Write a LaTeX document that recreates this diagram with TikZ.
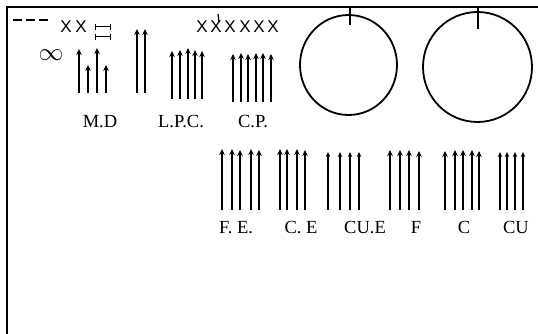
\documentclass[tikz,border=0pt]{standalone}
\usepackage{fontspec}
\setmainfont{Liberation Serif}
\newfontfamily\xfont{Liberation Sans}
\usetikzlibrary{arrows.meta}
\tikzset{
  arr/.style={line width=1.8pt,-{Stealth[length=6pt,width=5.5pt]}},
  thinarr/.style={line width=1.4pt,-{Stealth[length=5pt,width=4.5pt]}},
  frame/.style={line width=2pt},
  lab/.style={font=\fontsize{18.5}{18.5}\selectfont,anchor=base,inner sep=0pt},
  xmark/.style={font=\xfont\fontsize{17}{17}\selectfont,inner sep=0pt},
  ring/.style={line width=1.8pt}
}
\begin{document}
\begin{tikzpicture}[x=1pt,y=-1pt]
\useasboundingbox (0,0) rectangle (538,334);
% frame
\draw[frame] (7,334) -- (7,7) -- (538,7);
% dashes
\draw[line width=2pt] (13,20.5) -- (22,20.5) (26,20.5) -- (35,20.5) (39,20.5) -- (48,20.5);
% X marks
\foreach \x/\n in {66/xa,81/xb} \node[xmark] (\n) at (\x,27) {X};
\foreach \x/\n in {202/xc,216/xd,230/xe,245/xf,259/xg,273/xh} \node[xmark] (\n) at (\x,27) {X};
\draw[line width=1.2pt] (218,14) -- (219,22);
% rotated II
\foreach \yy in {27,37}{
  \draw[line width=1pt] (95,\yy) -- (110,\yy);
  \draw[line width=1pt] (95,\yy-3) -- (95,\yy+3) (110,\yy-3) -- (110,\yy+3);
}
% infinity
\node[inner sep=0pt] (inf) at (51,55) {\fontsize{27}{27}\selectfont$\infty$};
% M.D arrows
\foreach \x/\t in {79/49,88/65,97/48,106/65} \draw[arr] (\x,93) -- (\x,\t);
% tall pair
\foreach \x in {137,145} \draw[arr] (\x,93) -- (\x,29);
% L.P.C arrows
\foreach \x/\t in {172/51,180/50,188/48,195/50,202/51} \draw[arr] (\x,99) -- (\x,\t);
% C.P. arrows
\foreach \x/\t in {233/54,241/53,248/54,256/53,263/53,271/54} \draw[arr] (\x,102) -- (\x,\t);
% circles
\draw[ring] (348.5,65) ellipse (48.5 and 50);
\draw[ring] (477.5,67) ellipse (54.5 and 55);
\draw[line width=1.6pt] (350,7) -- (350,25);
\draw[line width=1.6pt] (478,7) -- (478,29);
% lower arrows
\foreach \x/\t in {222/149,232/149,240/150,251/149,259/150} \draw[arr] (\x,210) -- (\x,\t);
\foreach \x/\t in {280/149,287/149,297/149,305/150} \draw[arr] (\x,210) -- (\x,\t);
\foreach \x/\t in {328/152,340/152,350/152,359/152} \draw[thinarr] (\x,210) -- (\x,\t);
\foreach \x/\t in {390/150,400/150,409/150,419/151} \draw[arr] (\x,210) -- (\x,\t);
\foreach \x/\t in {445/151,455/150,463/150,472/150,479/151} \draw[arr] (\x,210) -- (\x,\t);
\foreach \x/\t in {500/152,507/152,515/152,523/152} \draw[thinarr] (\x,210) -- (\x,\t);
% labels
\node[lab] (md) at (100,128) {M.D};
\node[lab] (lpc) at (181,128) {L.P.C.};
\node[lab] (cp) at (253,128) {C.P.};
\node[lab] (fe) at (236,233) {F. E.};
\node[lab] (ce) at (301,233) {C. E};
\node[lab] (cue) at (365,233) {CU.E};
\node[lab] (f) at (416,233) {F};
\node[lab] (c) at (464,233) {C};
\node[lab] (cu) at (516,233) {CU};
\end{tikzpicture}
\end{document}
